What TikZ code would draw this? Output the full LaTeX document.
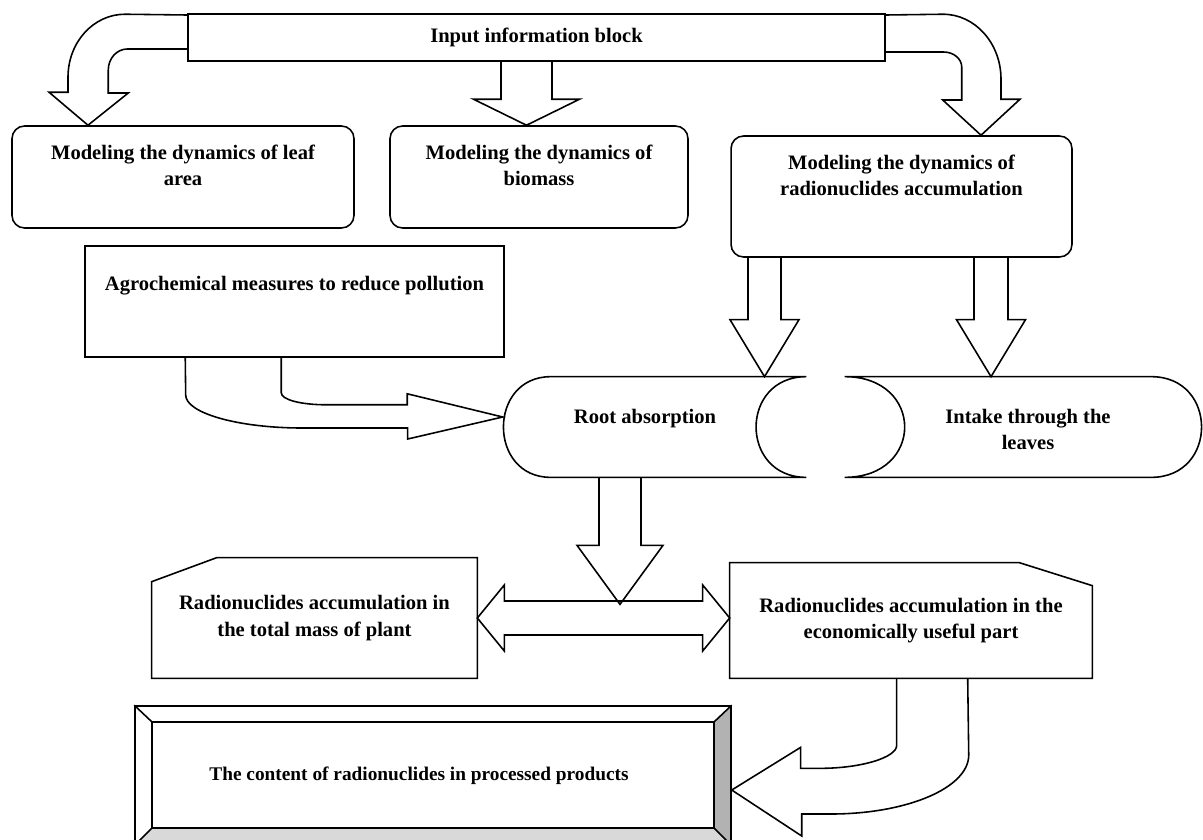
\documentclass[tikz,border=0pt]{standalone}
\usepackage{fontspec}
\setmainfont{Liberation Serif}
\usetikzlibrary{positioning,calc,backgrounds}
\definecolor{bevelside}{RGB}{178,178,178}
\definecolor{bevelbase}{RGB}{217,217,217}

% straight block arrow pointing down: source, tip, half shaft, half head, head length
\newcommand{\dnarrow}[5]{%
  \draw[blk] ($(#1 -| #2)+(-#3,0)$) -- ($(#2)+(-#3,-#5)$) -- ($(#2)+(-#4,-#5)$)
    -- (#2) -- ($(#2)+(#4,-#5)$) -- ($(#2)+(#3,-#5)$) -- ($(#1 -| #2)+(#3,0)$);}

\begin{document}
\begin{tikzpicture}[
    x=0.02cm, y=-0.02cm,
    bord/.style={draw=black, line width=0.9pt},
    blk/.style={bord, line join=miter},
    txt/.style={font=\fontsize{11.7}{15}\selectfont\bfseries, align=center, inner sep=0pt},
    rbox/.style={rectangle, rounded corners=0.25cm, bord},
    sbox/.style={rectangle, bord},
    ghost/.style={rectangle, inner sep=0pt, minimum height=2cm},
]
\useasboundingbox (0,0) rectangle (1203,839);

% === Input block ===
\node[sbox, txt, minimum width=13.94cm, minimum height=0.94cm]
    (inp) at (536.5,37.5) {Input information block};

% === Modeling blocks ===
\node[rbox, minimum width=6.84cm, minimum height=2.04cm] (leaf) at (183,177) {};
\node[txt, below=0.38cm of leaf.north] (leaftxt)
    {Modeling the dynamics of leaf\\area};

\node[rbox, minimum width=5.96cm, minimum height=2.04cm] (bio) at (539,177) {};
\node[txt, below=0.38cm of bio.north] (biotxt)
    {Modeling the dynamics of\\biomass};

\node[rbox, minimum width=6.82cm, minimum height=2.42cm] (rad) at (901.5,196.5) {};
\node[txt, below=0.38cm of rad.north] (radtxt)
    {Modeling the dynamics of\\radionuclides accumulation};

% === Agrochemical measures ===
\node[sbox, minimum width=8.38cm, minimum height=2.22cm] (agro) at (294.5,301.5) {};
\node[txt, below=0.62cm of agro.north] (agrotxt)
    {Agrochemical measures to reduce pollution};

% === Uptake pathways ===
\node[ghost, minimum width=6.04cm] (root) at (655,427) {};
\draw[bord] (root.north east) -- ($(root.north west)+(47,0)$)
    .. controls +(-63,0) and +(-63,0) .. ($(root.south west)+(47,0)$)
    -- (root.south east) .. controls +(-67,0) and +(-67,0) .. (root.north east);
\node[txt, below=0.64cm of root.north, xshift=-0.2cm] (roottxt) {Root absorption};

\node[ghost, minimum width=7.12cm] (intake) at (1023,427) {};
\draw[bord] (intake.north west) -- ($(intake.north east)+(-50,0)$)
    .. controls +(67,0) and +(67,0) .. ($(intake.south east)+(-50,0)$)
    -- (intake.south west) .. controls +(80,0) and +(80,0) .. (intake.north west);
\node[txt, below=0.64cm of intake.north, xshift=0.1cm] (intaketxt)
    {Intake through the\\leaves};

% === Accumulation blocks ===
\node[txt, minimum width=6.5cm, minimum height=2.4cm] (tot) at (314.5,618)
    {Radionuclides accumulation in\\the total mass of plant};
\draw[bord] (tot.south west) -- ($(tot.north west)+(0,24)$) -- ($(tot.north west)+(65,0)$)
    -- (tot.north east) -- (tot.south east) -- cycle;

\node[txt, minimum width=7.24cm, minimum height=2.3cm] (eco) at (911,620.5)
    {Radionuclides accumulation in the\\economically useful part};
\draw[bord] (eco.south west) -- (eco.north west) -- ($(eco.north east)+(-73,0)$)
    -- ($(eco.north east)+(0,23)$) -- (eco.south east) -- cycle;

% === Processed products (bevelled) ===
\node[sbox, minimum width=11.92cm, minimum height=2.78cm] (proc) at (433,775.5) {};
\coordinate (pnw) at ($(proc.north west)+(18,17)$);
\coordinate (pne) at ($(proc.north east)+(-18,17)$);
\coordinate (pse) at ($(proc.south east)+(-18,-18)$);
\coordinate (psw) at ($(proc.south west)+(18,-18)$);
\begin{scope}[on background layer]
    \fill[bevelside] (proc.north east) -- (proc.south east) -- (pse) -- (pne) -- cycle;
    \fill[bevelbase] (proc.south west) -- (proc.south east) -- (pse) -- (psw) -- cycle;
\end{scope}
\draw[bord] (pnw) rectangle (pse);
\draw[bord] (proc.north west) -- (pnw) (proc.north east) -- (pne)
    (proc.south east) -- (pse) (proc.south west) -- (psw);
\node[txt, font=\fontsize{11}{14}\selectfont\bfseries, xshift=-0.28cm] (proctxt) at (proc)
    {The content of radionuclides in processed products};

% === Block arrows ===
\coordinate (a1) at ($(bio.north)+(-12.5,0)$);
\coordinate (a2) at ($(root.north)+(109.5,0)$);
\coordinate (a3) at ($(intake.north)+(-32,0)$);
\coordinate (a4) at ($(root.south)+(-35,127)$);
\dnarrow{inp.south}{a1}{25.5}{53}{26}
\dnarrow{rad.south}{a2}{16.5}{34.5}{57}
\dnarrow{rad.south}{a3}{17}{34.5}{57}
\dnarrow{root.south}{a4}{21}{43}{59}

% input -> leaf area (curved)
\coordinate (t1) at ($(leaf.north)+(-95,0)$);
\draw[blk] ($(inp.west)+(0,11.5)$) -- ++(-60,0)
    .. controls +(-10.5,0) and +(0,-11.6) .. ++(-19,21)
    -- ++(0,23) -- ++(20,0) -- (t1) -- ++(-39,-33) -- ++(19,0) -- ++(0,-15)
    .. controls +(0,-35) and +(-31.5,0) .. ++(57,-63)
    -- ($(inp.west)+(0,-22.5)$);

% input -> radionuclides (curved)
\coordinate (t2) at ($(rad.north)+(79.5,0)$);
\draw[blk] ($(inp.east)+(0,14.5)$) -- ++(58,0)
    .. controls +(10,0) and +(0,-8) .. ++(18,15)
    -- ++(0,33) -- ++(-19,0) -- (t2) -- ++(39,-36) -- ++(-19,0) -- ++(0,-20)
    .. controls +(0,-36) and +(32,0) .. ++(-58,-65)
    -- ($(inp.east)+(0,-22.5)$);

% agrochemical -> root absorption
\coordinate (t3) at ($(root.west)+(-1,-10)$);
\draw[blk] ($(agro.south west)+(197,0)$) -- ++(0,35)
    .. controls +(0,7) and +(-25,0) .. ++(45,12)
    -- ++(81,0) -- ++(0,-11) -- (t3) -- ++(-95,22) -- ++(0,-11) -- ++(-105,0)
    .. controls +(-65,0) and +(0,18) .. ++(-117,-33)
    -- ($(agro.south west)+(101,0)$);

% total mass <-> useful part
\coordinate (dr) at (eco.west |- tot.east);
\draw[blk] (tot.east) -- ++(27,-33) -- ++(0,16) -- ($(dr)+(-27,-17)$) -- ++(0,-16)
    -- (dr) -- ++(-27,33) -- ++(0,-16) -- ($(tot.east)+(27,17)$) -- ++(0,16) -- cycle;

% useful part -> processed products (curved)
\coordinate (t4) at ($(proc.east)+(0,14.5)$);
\draw[blk] ($(eco.south west)+(167,0)$) -- ++(0,67)
    .. controls +(0,12) and +(42,0) .. ++(-77,23)
    -- ++(-19,0) -- ++(0,-21) -- (t4) -- ++(70,46) -- ++(0,-22) -- ++(29,0)
    .. controls +(76,0) and +(0,33) .. ++(138,-59)
    -- ($(eco.south west)+(238,0)$);

\end{tikzpicture}
\end{document}
